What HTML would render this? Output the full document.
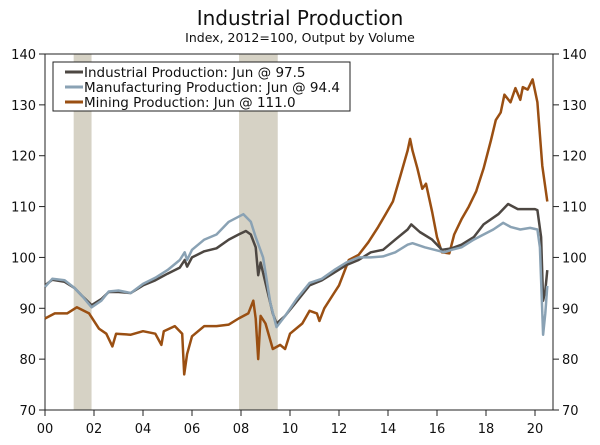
<!DOCTYPE html>
<html><head><meta charset="utf-8"><style>
body{margin:0;background:#fff}
svg{display:block;font-family:"DejaVu Sans","Liberation Sans",sans-serif}
</style></head><body>
<svg id="chart" width="600" height="445">
<text x="300" y="25" text-anchor="middle" font-size="20" fill="#111">Industrial Production</text>
<text x="300" y="42" text-anchor="middle" font-size="12.5" fill="#111">Index, 2012=100, Output by Volume</text>
<g id="shade"></g><g id="axes"></g><g id="lines"></g>
<g>
<rect x="53" y="62" width="297" height="49" fill="#fff" stroke="#222" stroke-width="1"/>
<g><line x1="65" y1="72" x2="83" y2="72" stroke="#4d4742" stroke-width="3"/><text x="84" y="77" font-size="13.5" fill="#111">Industrial Production: Jun @ 97.5</text></g>
<g><line x1="65" y1="87" x2="83" y2="87" stroke="#8aa2b4" stroke-width="3"/><text x="84" y="92" font-size="13.5" fill="#111">Manufacturing Production: Jun @ 94.4</text></g>
<g><line x1="65" y1="102" x2="83" y2="102" stroke="#9a4f12" stroke-width="3"/><text x="84" y="107" font-size="13.5" fill="#111">Mining Production: Jun @ 111.0</text></g>
</g>
</svg>
<script>
const yTicks=[70,80,90,100,110,120,130,140];
const xTickYears=[2000,2002,2004,2006,2008,2010,2012,2014,2016,2018,2020];
const xTickLabels=["00","02","04","06","08","10","12","14","16","18","20"];
const recessions=[[2001.17,2001.9],[2007.92,2009.5]];
const ipT=[2000.0,2000.3,2000.8,2001.2,2001.5,2001.9,2002.3,2002.6,2003.0,2003.5,2004.0,2004.5,2005.0,2005.5,2005.7,2005.8,2006.0,2006.5,2007.0,2007.5,2007.9,2008.2,2008.4,2008.6,2008.7,2008.8,2009.0,2009.3,2009.45,2009.8,2010.3,2010.8,2011.3,2011.8,2012.3,2012.8,2013.3,2013.8,2014.3,2014.8,2014.95,2015.3,2015.8,2016.2,2016.6,2017.0,2017.5,2017.9,2018.5,2018.9,2019.3,2019.8,2020.0,2020.1,2020.25,2020.33,2020.42,2020.5];
const ipV=[94.5,95.6,95.2,94,92.5,90.6,91.8,93.2,93.2,93.0,94.5,95.5,96.8,98.0,99.5,98.2,100,101.2,101.8,103.5,104.5,105.2,104.5,102.0,96.5,99,95,89,87,88.5,91.5,94.5,95.5,97,98.5,99.5,101,101.5,103.5,105.5,106.5,105,103.5,101.5,101.8,102.5,104,106.5,108.5,110.5,109.5,109.5,109.5,109.3,104,91.5,93.5,97.5];
const mfT=[2000.0,2000.3,2000.8,2001.2,2001.5,2001.9,2002.3,2002.6,2003.0,2003.5,2004.0,2004.5,2005.0,2005.5,2005.7,2005.8,2006.0,2006.5,2007.0,2007.5,2007.9,2008.1,2008.4,2008.6,2008.9,2009.2,2009.45,2009.8,2010.3,2010.8,2011.3,2011.8,2012.3,2012.8,2013.3,2013.8,2014.3,2014.8,2015.0,2015.5,2015.9,2016.3,2016.6,2017.0,2017.5,2017.9,2018.3,2018.7,2019.0,2019.4,2019.8,2020.1,2020.2,2020.33,2020.42,2020.5];
const mfV=[94.2,95.8,95.5,94,92.5,90.2,91.5,93.3,93.5,93.0,94.8,96,97.5,99.5,101,99.5,101.5,103.5,104.5,107,108,108.5,107,104,100,91,86.3,88.5,92,95,95.8,97.5,99,100,100,100.2,101,102.5,102.8,102,101.5,101,101.5,102,103.5,104.5,105.5,106.8,106,105.5,105.8,105.5,102,84.8,89,94.4];
const mnT=[2000.0,2000.4,2000.9,2001.3,2001.8,2002.2,2002.5,2002.75,2002.9,2003.5,2004.0,2004.5,2004.75,2004.85,2005.3,2005.6,2005.68,2005.8,2006.0,2006.5,2007.0,2007.5,2007.9,2008.3,2008.5,2008.6,2008.7,2008.8,2009.0,2009.3,2009.6,2009.8,2010.0,2010.5,2010.8,2011.1,2011.2,2011.4,2011.8,2012.0,2012.4,2012.8,2013.2,2013.6,2013.9,2014.2,2014.5,2014.8,2014.9,2015.0,2015.2,2015.4,2015.55,2015.8,2016.0,2016.2,2016.5,2016.7,2017.0,2017.3,2017.6,2017.9,2018.2,2018.4,2018.6,2018.75,2019.0,2019.2,2019.4,2019.5,2019.7,2019.9,2020.1,2020.3,2020.5];
const mnV=[88,89,89,90.2,89,86,85,82.5,85,84.8,85.5,85,82.8,85.5,86.5,85,77,81,84.5,86.5,86.5,86.8,88,89,91.5,88,80,88.5,87,82,82.8,82,85,87,89.5,89,87.5,90,93,94.5,99.5,100.5,103,106,108.5,111,116,121,123.3,121,117.5,113.5,114.5,109,104,101,100.8,104.5,107.5,110,113,117.5,123,127,128.5,132,130.5,133.3,131,133.5,133,135,130.5,118,111];
const X0=45,X1=553,Y0=410,Y1=54;
const xs=t=>X0+(t-2000)*24.5;
const ys=v=>Y0-(v-70)*(Y0-Y1)/70;
const NS="http://www.w3.org/2000/svg";
function mk(tag,attrs,parent){const e=document.createElementNS(NS,tag);for(const k in attrs)e.setAttribute(k,attrs[k]);parent.appendChild(e);return e;}
const shade=document.getElementById('shade'),axes=document.getElementById('axes'),lines=document.getElementById('lines');
recessions.forEach(r=>{const e=mk('rect',{x:xs(r[0]),y:Y1,width:xs(r[1])-xs(r[0]),height:Y0-Y1,fill:'#d6d2c5'},shade);

});
const box=mk('rect',{x:X0,y:Y1,width:X1-X0,height:Y0-Y1,fill:'none',stroke:'#222','stroke-width':1},axes);


yTicks.forEach(v=>{const y=ys(v);
mk('line',{x1:X0-6,x2:X0,y1:y,y2:y,stroke:'#222'},axes);
mk('line',{x1:X1,x2:X1+6,y1:y,y2:y,stroke:'#222'},axes);
const l=mk('text',{x:X0-9,y:y+5,'text-anchor':'end','font-size':13,fill:'#111'},axes);l.textContent=v;


const r=mk('text',{x:X1+9,y:y+5,'font-size':13,fill:'#111'},axes);r.textContent=v;

});
xTickYears.forEach((t,i)=>{const x=xs(t);
mk('line',{x1:x,x2:x,y1:Y0,y2:Y0+6,stroke:'#222'},axes);
const l=mk('text',{x:x,y:Y0+23,'text-anchor':'middle','font-size':13,fill:'#111'},axes);l.textContent=xTickLabels[i];

});
function series(T,V,color,name){const d=T.map((t,i)=>(i?'L':'M')+xs(t).toFixed(1)+','+ys(V[i]).toFixed(1)).join('');
const p=mk('path',{d:d,fill:'none',stroke:color,'stroke-width':2.5,'stroke-linejoin':'round'},lines);

}
series(mnT,mnV,'#9a4f12','mining-line');
series(ipT,ipV,'#4d4742','industrial-line');
series(mfT,mfV,'#8aa2b4','manufacturing-line');
</script>
</body></html>
